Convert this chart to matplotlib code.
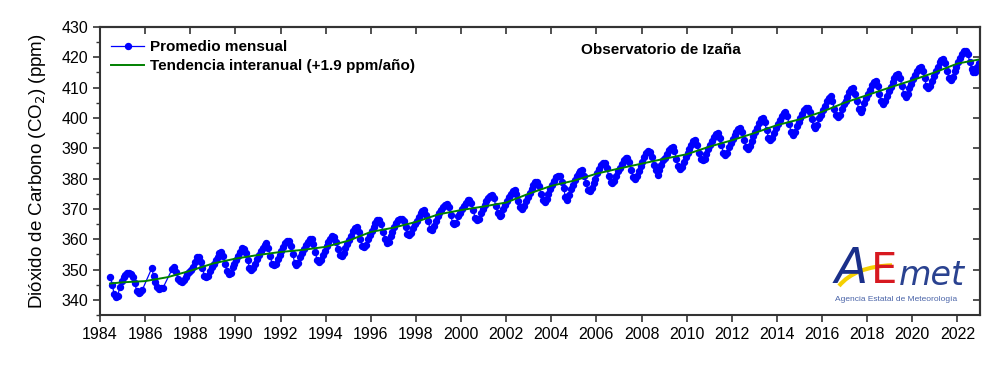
import numpy as np
import matplotlib.pyplot as plt
from matplotlib.ticker import MultipleLocator
from matplotlib.path import Path
from matplotlib.patches import PathPatch

plt.rcParams['font.family'] = ['Liberation Sans', 'DejaVu Sans']

# ---------------- Data (monthly CO2 at Izaña, ppm) ---------------- #
nan = np.nan
years = list(range(1984, 2023))
monthly = {
    1984: [nan, nan, nan, nan, nan, 347.6, 345.0, 342.0, 341.0, 341.4, 344.3, 346.2],
    1985: [347.5, 348.2, 348.8, 349.0, 348.6, 347.6, 345.5, 343.0, 342.4, 342.6, 343.3, nan],
    1986: [nan, nan, nan, 350.4, 348.0, 345.8, 344.2, 343.6, 343.8, 344.0, nan, nan],
    1987: [nan, nan, 350.3, 351.0, 349.2, 347.0, 346.2, 345.9, 346.5, 347.6, 348.5, 349.2],
    1988: [349.8, 351.0, 352.5, 354.0, 354.3, 352.5, 350.5, 348.0, 347.5, 348.0, 349.5, 350.8],
    1989: [351.8, 353.0, 354.3, 355.5, 355.8, 354.5, 352.0, 349.5, 348.6, 349.0, 350.8, 352.0],
    1990: [353.0, 354.5, 355.8, 357.0, 356.8, 355.5, 353.0, 350.6, 350.0, 350.5, 352.0, 353.5],
    1991: [354.8, 356.0, 357.2, 358.2, 358.6, 357.0, 354.5, 352.0, 351.4, 351.8, 353.5, 354.8],
    1992: [356.0, 357.3, 358.6, 359.5, 359.3, 357.8, 355.0, 352.3, 351.6, 352.2, 354.0, 355.5],
    1993: [356.8, 358.0, 359.2, 360.0, 360.2, 358.5, 355.8, 353.0, 352.5, 353.0, 354.8, 356.2],
    1994: [357.8, 359.0, 360.2, 361.0, 360.6, 359.0, 356.8, 354.8, 354.6, 355.5, 357.2, 358.5],
    1995: [359.8, 361.2, 362.6, 363.8, 364.1, 362.5, 360.2, 357.8, 357.5, 358.2, 360.0, 361.5],
    1996: [362.8, 364.0, 365.3, 366.2, 366.3, 365.0, 362.5, 360.0, 358.6, 359.0, 361.0, 362.5],
    1997: [364.0, 365.5, 366.5, 366.8, 366.8, 366.0, 364.0, 361.8, 361.3, 362.0, 363.8, 365.0],
    1998: [366.0, 367.3, 368.5, 369.4, 369.5, 368.0, 366.0, 363.5, 363.2, 364.2, 366.0, 367.5],
    1999: [368.5, 369.6, 370.7, 371.4, 371.5, 370.5, 368.0, 365.5, 365.0, 365.5, 367.5, 368.8],
    2000: [369.8, 371.0, 372.0, 372.8, 372.9, 371.8, 369.5, 367.0, 366.3, 366.8, 368.5, 370.0],
    2001: [371.2, 372.5, 373.6, 374.4, 374.5, 373.5, 371.0, 368.5, 367.6, 368.0, 369.8, 371.2],
    2002: [372.5, 373.8, 375.0, 376.0, 376.2, 375.0, 372.5, 370.5, 370.1, 370.8, 372.5, 374.0],
    2003: [375.3, 376.6, 377.8, 378.7, 378.9, 377.5, 375.0, 372.8, 372.3, 373.2, 375.0, 376.5],
    2004: [378.0, 379.3, 380.4, 381.0, 380.8, 379.0, 377.0, 374.0, 372.9, 374.5, 376.5, 378.0],
    2005: [379.6, 380.8, 381.8, 382.5, 382.7, 381.0, 378.5, 376.2, 375.9, 376.8, 378.5, 380.0],
    2006: [381.8, 383.0, 384.4, 385.2, 385.0, 383.5, 381.0, 379.0, 378.6, 379.3, 381.0, 382.5],
    2007: [383.5, 384.8, 386.0, 386.7, 386.8, 385.3, 382.8, 380.5, 380.0, 380.8, 382.5, 384.0],
    2008: [385.5, 387.0, 388.3, 389.0, 388.8, 387.0, 384.5, 382.7, 381.1, 382.8, 384.5, 386.0],
    2009: [386.8, 388.0, 389.3, 390.2, 390.4, 389.0, 386.5, 384.0, 383.0, 383.8, 385.5, 387.0],
    2010: [388.3, 389.8, 391.2, 392.4, 392.6, 391.0, 388.5, 386.5, 386.0, 386.5, 388.2, 389.8],
    2011: [391.0, 392.4, 393.8, 394.8, 395.1, 393.5, 391.0, 388.5, 387.7, 388.5, 390.3, 391.8],
    2012: [393.0, 394.3, 395.5, 396.3, 396.5, 395.2, 392.8, 390.5, 389.9, 390.8, 392.5, 394.0],
    2013: [395.5, 396.8, 398.2, 399.5, 399.8, 398.5, 396.0, 393.5, 392.6, 393.3, 395.0, 396.8],
    2014: [398.0, 399.3, 400.6, 401.5, 401.8, 400.5, 398.0, 395.5, 394.3, 395.5, 397.3, 398.8],
    2015: [400.0, 401.3, 402.5, 403.3, 403.4, 402.0, 399.5, 397.2, 396.5, 397.8, 399.8, 401.0],
    2016: [402.5, 404.0, 405.5, 406.7, 407.1, 405.5, 403.0, 401.0, 400.3, 401.0, 403.0, 404.5],
    2017: [405.5, 407.0, 408.5, 409.5, 409.7, 408.0, 405.5, 403.0, 402.0, 403.0, 405.0, 406.5],
    2018: [407.8, 409.3, 410.8, 411.8, 412.1, 410.5, 408.0, 405.5, 404.5, 405.5, 407.3, 409.0],
    2019: [410.3, 411.8, 413.2, 414.2, 414.4, 413.0, 410.5, 408.0, 406.9, 408.0, 409.8, 411.3],
    2020: [412.8, 414.2, 415.5, 416.5, 416.8, 415.5, 413.0, 410.5, 409.7, 410.5, 412.3, 413.8],
    2021: [415.3, 416.8, 418.3, 419.2, 419.3, 418.0, 415.5, 413.2, 412.4, 413.5, 415.3, 416.8],
    2022: [418.3, 419.8, 421.2, 422.0, 422.1, 421.0, 418.5, 416.2, 415.0, 415.2, 416.8, 418.0],
}

# interannual trend (smoothed), read at year starts
trend_x = [1984.45, 1985, 1986, 1987, 1988, 1989, 1990, 1991, 1992, 1993, 1994,
           1995, 1996, 1997, 1998, 1999, 2000, 2001, 2002, 2003, 2004, 2005,
           2006, 2007, 2008, 2009, 2010, 2011, 2012, 2013, 2014, 2015, 2016,
           2017, 2018, 2019, 2020, 2021, 2022, 2023]
trend_y = [345.4, 345.8, 346.2, 347.5, 349.6, 352.0, 353.6, 354.8, 355.8, 356.5, 357.5,
           359.5, 362.4, 363.8, 365.7, 368.2, 369.6, 370.8, 372.1, 375.0, 377.6, 379.3,
           381.6, 383.3, 384.9, 386.5, 388.0, 390.5, 392.6, 395.0, 397.6, 399.5, 402.0,
           405.0, 407.5, 410.0, 412.4, 415.0, 417.9, 419.3]

# flatten monthly values into a decimal-year series (missing months dropped)
t, co2 = [], []
for y in years:
    for m, v in enumerate(monthly[y]):
        if not np.isnan(v):
            t.append(y + (m + 0.5) / 12)
            co2.append(v)

# ---------------- Figure ---------------- #
fig = plt.figure(figsize=(10, 3.89), dpi=100)
ax = fig.add_axes([0.100, 0.190, 0.880, 0.741])

ax.plot(t, co2, '-', color='#0000ff', lw=0.9, marker='o', ms=4.3,
        label='Promedio mensual')
ax.plot(trend_x, trend_y, '-', color='#008000', lw=1.4,
        label='Tendencia interanual (+1.9 ppm/año)')

ax.set_xlim(1984, 2023)
ax.set_ylim(335, 430)
ax.xaxis.set_major_locator(MultipleLocator(2))
ax.yaxis.set_minor_locator(MultipleLocator(5))
ax.set_yticks(range(340, 431, 10))

ax.tick_params(axis='both', which='major', labelsize=11.5, length=5, width=1.2,
               color='#333333', direction='out')
ax.tick_params(axis='y', which='minor', length=3, width=1.0, color='#333333',
               direction='out')
for s in ax.spines.values():
    s.set_color('#333333')
    s.set_linewidth(1.5)

# inward ticks on top and right
sec_x = ax.secondary_xaxis('top')
sec_x.xaxis.set_major_locator(MultipleLocator(2))
sec_x.tick_params(direction='in', length=5, width=1.2, color='#333333',
                  labeltop=False)
sec_y = ax.secondary_yaxis('right')
sec_y.set_yticks(range(340, 431, 10))
sec_y.tick_params(direction='in', length=5, width=1.2, color='#333333',
                  labelright=False)
for s in list(sec_x.spines.values()) + list(sec_y.spines.values()):
    s.set_color('#333333')
    s.set_linewidth(1.5)

ax.set_ylabel('Dióxido de Carbono (CO$_2$) (ppm)', fontsize=13.5, labelpad=10)

leg = ax.legend(loc='upper left', bbox_to_anchor=(0.0, 0.99), frameon=False,
                handlelength=2.2, prop={'weight': 'bold', 'size': 11},
                borderaxespad=0.3, labelspacing=0.3, handletextpad=0.4)

ax.text(0.637, 0.918, 'Observatorio de Izaña', transform=ax.transAxes,
        ha='center', va='center', fontsize=11, fontweight='bold')

# AEMET logo (as text plus a yellow swoosh)
fig.text(0.851, 0.248, 'A', fontsize=35, color='#1a2f8a', style='italic',
         family='DejaVu Sans', ha='center', va='bottom')
fig.text(0.884, 0.250, 'E', fontsize=30, color='#d71920',
         family='DejaVu Sans', ha='center', va='bottom')
fig.text(0.932, 0.250, 'met', fontsize=24, color='#2a4290', style='italic',
         family='DejaVu Sans', ha='center', va='bottom')
swoosh = Path([(0.839, 0.265), (0.855, 0.315), (0.892, 0.318)],
              [Path.MOVETO, Path.CURVE3, Path.CURVE3])
fig.add_artist(PathPatch(swoosh, fill=False, ec='#f5d000', lw=3,
                         transform=fig.transFigure))
fig.text(0.896, 0.230, 'Agencia Estatal de Meteorología', fontsize=6.0,
         color='#4a64a8', ha='center', va='center')

fig.savefig('out.png', dpi=100)
